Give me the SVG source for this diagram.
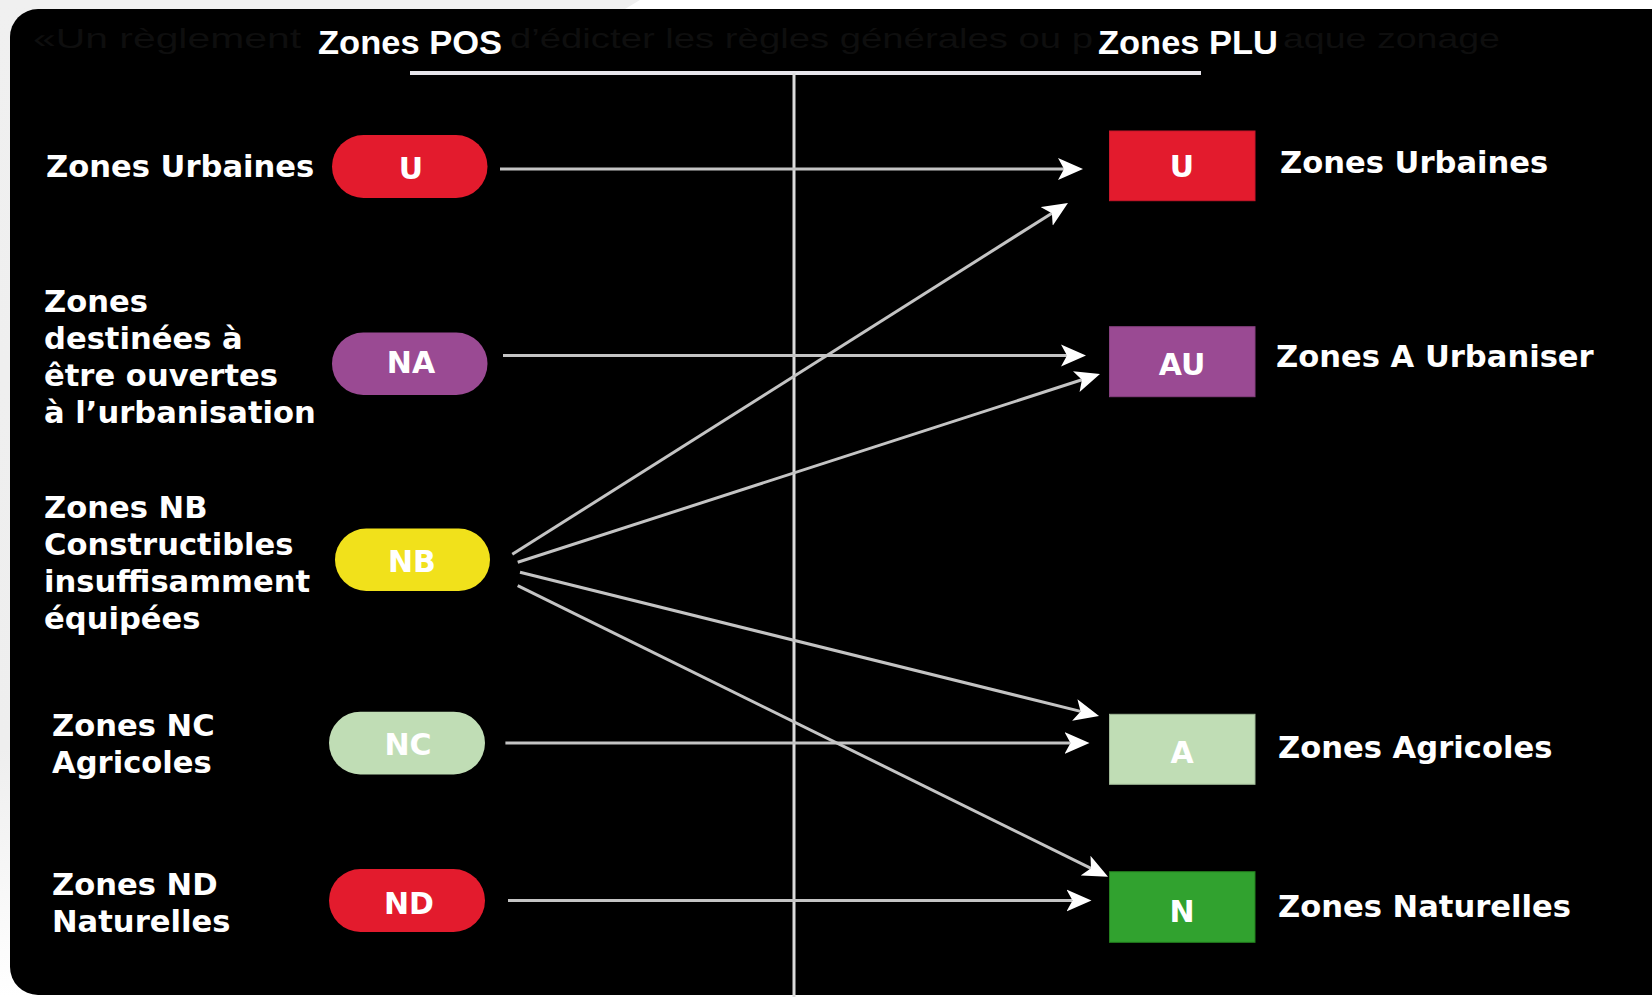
<svg xmlns="http://www.w3.org/2000/svg" width="1652" height="997" viewBox="0 0 1652 997">
  <defs>
    <style>
      .lbl { font-family: "DejaVu Sans", "Liberation Sans", sans-serif; font-weight: bold; font-size: 30.6px; fill: #ffffff; }
      .tag { font-family: "DejaVu Sans", "Liberation Sans", sans-serif; font-weight: bold; font-size: 30px; fill: #ffffff; text-anchor: middle; }
      .hdr { font-family: "Liberation Sans", "DejaVu Sans", sans-serif; font-weight: bold; font-size: 33px; fill: #ffffff; }
      .ghost { font-family: "Liberation Sans", "DejaVu Sans", sans-serif; font-size: 28px; fill: #0e0e0e; }
      .conn { stroke: #c4c4c4; stroke-width: 3; fill: none; marker-end: url(#head); }
    </style>
    <marker id="head" viewBox="0 -12 26 24" refX="6" refY="0" markerWidth="26" markerHeight="24" markerUnits="userSpaceOnUse" orient="auto">
      <path d="M25,0 L0,-11 L6,0 L0,11 Z" fill="#ffffff"/>
    </marker>
    <linearGradient id="bgl" x1="0" y1="0" x2="0" y2="1">
      <stop offset="0" stop-color="#f0f0f0"/>
      <stop offset="0.75" stop-color="#eeeeee"/>
      <stop offset="1" stop-color="#ffffff"/>
    </linearGradient>
  </defs>

  <!-- background -->
  <rect x="0" y="0" width="1652" height="997" fill="url(#bgl)"/>
  <polygon points="640,0 1652,0 1652,12 620,12" fill="#ffffff"/>
  <rect x="10" y="9" width="1680" height="986" rx="28" ry="28" fill="#000000"/>

  <!-- faint background text -->
  <g id="ghost-text">
    <text class="ghost" x="33" y="48" textLength="268" lengthAdjust="spacingAndGlyphs">«Un règlement</text>
    <text class="ghost" x="510" y="48" textLength="583" lengthAdjust="spacingAndGlyphs">d’édicter les règles générales ou p</text>
    <text class="ghost" x="1283" y="48" textLength="217" lengthAdjust="spacingAndGlyphs">aque zonage</text>
  </g>

  <!-- headers and axes -->
  <g id="header">
    <text class="hdr" x="318" y="54" textLength="184" lengthAdjust="spacingAndGlyphs">Zones POS</text>
    <text class="hdr" x="1098" y="54" textLength="180" lengthAdjust="spacingAndGlyphs">Zones PLU</text>
    <line x1="410" y1="73" x2="1201" y2="73" stroke="#e8e6ec" stroke-width="4"/>
    <line x1="794" y1="73" x2="794" y2="997" stroke="#dcdcdc" stroke-width="3"/>
  </g>

  <!-- left (POS) nodes -->
  <g id="pos-U">
    <text class="lbl" x="46" y="177">Zones Urbaines</text>
    <rect x="332" y="135" width="155.5" height="63" rx="31.5" fill="#e31b2d"/>
    <text class="tag" x="411" y="179">U</text>
  </g>
  <g id="pos-NA">
    <text class="lbl" x="44" y="312">Zones</text>
    <text class="lbl" x="44" y="349">destinées à</text>
    <text class="lbl" x="44" y="386">être ouvertes</text>
    <text class="lbl" x="44" y="423">à l’urbanisation</text>
    <rect x="332" y="332.5" width="155.5" height="62.5" rx="31.25" fill="#9a4a93"/>
    <text class="tag" x="411" y="373">NA</text>
  </g>
  <g id="pos-NB">
    <text class="lbl" x="44" y="518">Zones NB</text>
    <text class="lbl" x="44" y="555">Constructibles</text>
    <text class="lbl" x="44" y="592">insuffisamment</text>
    <text class="lbl" x="44" y="629">équipées</text>
    <rect x="335" y="528.5" width="155" height="62.5" rx="31.25" fill="#f1e11b"/>
    <text class="tag" x="412" y="572">NB</text>
  </g>
  <g id="pos-NC">
    <text class="lbl" x="52" y="736">Zones NC</text>
    <text class="lbl" x="52" y="773">Agricoles</text>
    <rect x="329" y="711.7" width="156" height="62.7" rx="31.35" fill="#c0ddb5"/>
    <text class="tag" x="408" y="754.5">NC</text>
  </g>
  <g id="pos-ND">
    <text class="lbl" x="52" y="895">Zones ND</text>
    <text class="lbl" x="52" y="932">Naturelles</text>
    <rect x="329" y="869" width="156" height="63" rx="31.5" fill="#e31b2d"/>
    <text class="tag" x="409" y="914">ND</text>
  </g>

  <!-- right (PLU) nodes -->
  <g id="plu-U">
    <rect x="1109.5" y="131" width="145.5" height="69.7" fill="#e31b2d" stroke="#c8172a" stroke-width="1"/>
    <text class="tag" x="1182" y="177">U</text>
    <text class="lbl" x="1280" y="173">Zones Urbaines</text>
  </g>
  <g id="plu-AU">
    <rect x="1109.5" y="326.7" width="145.5" height="70" fill="#9a4a93" stroke="#86407f" stroke-width="1"/>
    <text class="tag" x="1182" y="375">AU</text>
    <text class="lbl" x="1276" y="367">Zones A Urbaniser</text>
  </g>
  <g id="plu-A">
    <rect x="1109.5" y="714.3" width="145.5" height="70" fill="#c0ddb5" stroke="#9fb896" stroke-width="1"/>
    <text class="tag" x="1182" y="763">A</text>
    <text class="lbl" x="1278" y="758">Zones Agricoles</text>
  </g>
  <g id="plu-N">
    <rect x="1109.5" y="871.7" width="145.5" height="70.6" fill="#31a22f" stroke="#24801f" stroke-width="1"/>
    <text class="tag" x="1182" y="922">N</text>
    <text class="lbl" x="1278" y="917">Zones Naturelles</text>
  </g>

  <!-- connectors -->
  <g id="connectors">
    <line class="conn" x1="500" y1="169" x2="1064" y2="169"/>
    <line class="conn" x1="503" y1="355.5" x2="1067" y2="355.5"/>
    <line class="conn" x1="512.3" y1="554.3" x2="1051.9" y2="213.2"/>
    <line class="conn" x1="517.7" y1="562.3" x2="1081.9" y2="379.8"/>
    <line class="conn" x1="520" y1="572.3" x2="1080.6" y2="711.4"/>
    <line class="conn" x1="517.7" y1="585.7" x2="1091" y2="868.3"/>
    <line class="conn" x1="505.4" y1="743" x2="1070.5" y2="743"/>
    <line class="conn" x1="508" y1="900.5" x2="1072.5" y2="900.5"/>
  </g>
</svg>
